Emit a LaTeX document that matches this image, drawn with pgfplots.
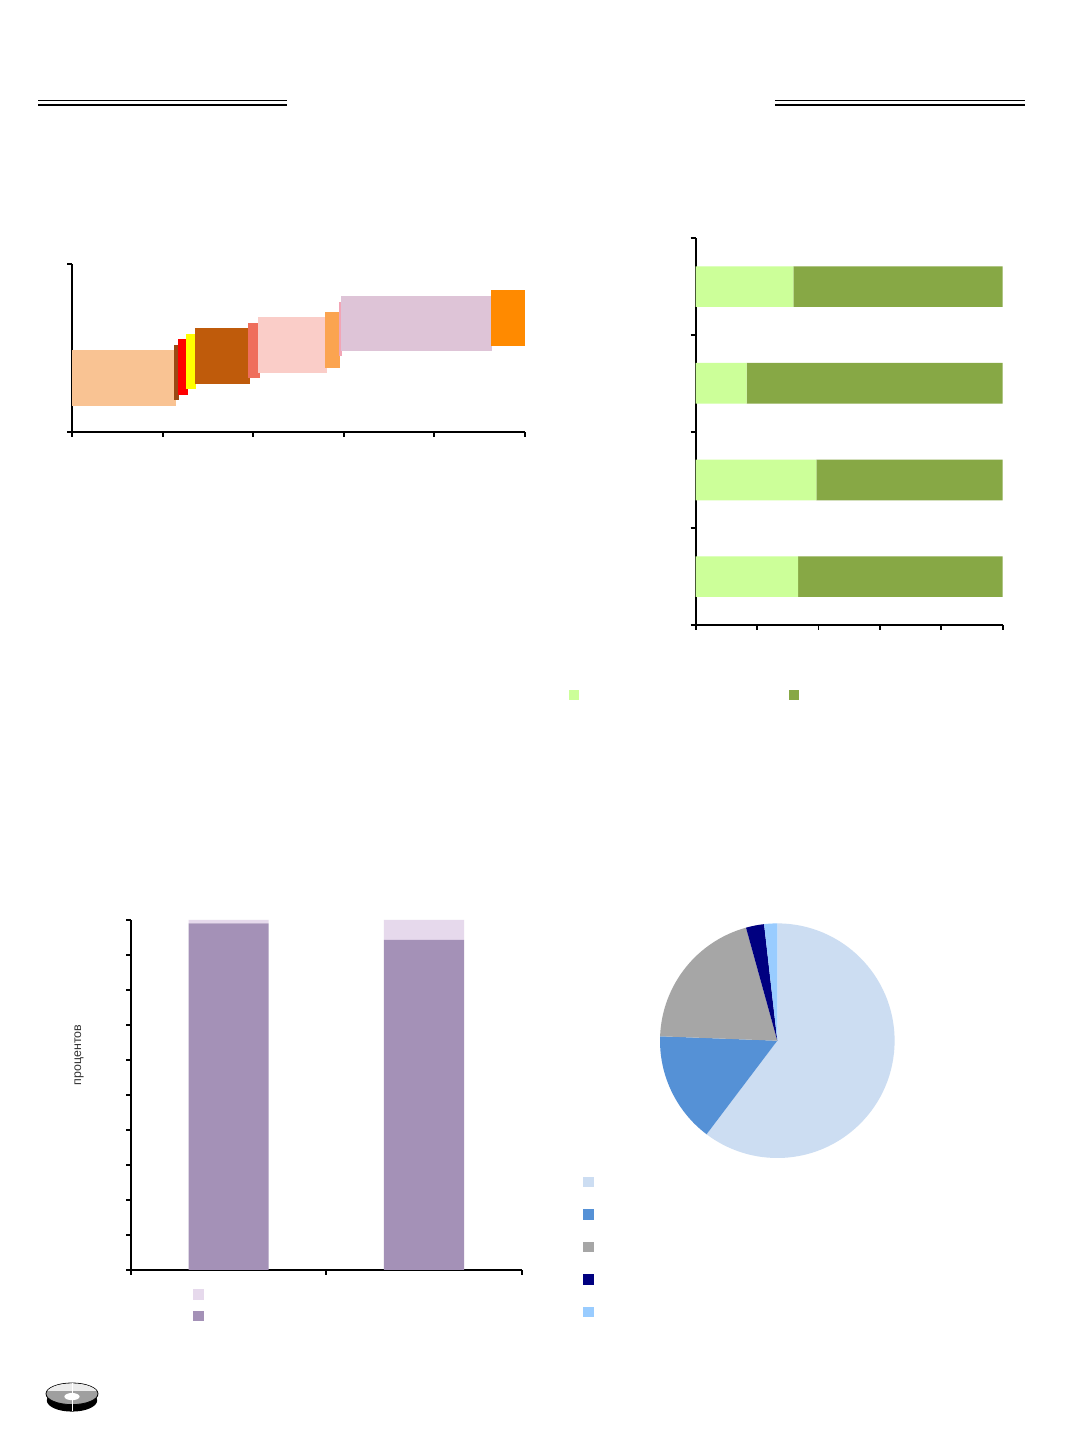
\documentclass[border=0pt]{standalone}
\usepackage{fontspec}
\setmainfont{Liberation Sans}
\usepackage{pgfplots}
\pgfplotsset{compat=1.18}
\definecolor{cPeach}{HTML}{F9C393}
\definecolor{cBrown}{HTML}{9A4A14}
\definecolor{cRed}{HTML}{FF0000}
\definecolor{cYellow}{HTML}{FFFF00}
\definecolor{cDkOr}{HTML}{BF5B0B}
\definecolor{cSalmon}{HTML}{EF6E5C}
\definecolor{cLtPink}{HTML}{FACDC8}
\definecolor{cLtOr}{HTML}{FBA450}
\definecolor{cPink}{HTML}{F2A5B6}
\definecolor{cMauve}{HTML}{DEC4D7}
\definecolor{cOrange}{HTML}{FF8A00}
\definecolor{gLight}{HTML}{CCFF99}
\definecolor{gDark}{HTML}{87A845}
\definecolor{vDark}{HTML}{A491B7}
\definecolor{vLight}{HTML}{E6D9EC}
\definecolor{pie1}{HTML}{CCDDF2}
\definecolor{pie2}{HTML}{5591D6}
\definecolor{pie3}{HTML}{A6A6A6}
\definecolor{pie4}{HTML}{000080}
\definecolor{pie5}{HTML}{99CCFF}
\pgfplotsset{
  myax/.style={scale only axis, axis lines*=left,
    axis line style={line width=0.9pt, black, -},
    tick style={line width=0.9pt, black}, tick align=outside,
    major tick length=2.5pt, xticklabels={}, yticklabels={}},
  sqleg/.style={legend image code/.code={\fill[##1,draw=none] (0pt,-2.6pt) rectangle (5.2pt,2.6pt);},
    every axis plot post/.append style={legend image code/.code={\fill[####1,draw=none] (0pt,-2.6pt) rectangle (5.2pt,2.6pt);}},
    legend style={draw=none, fill=none, inner sep=0pt, outer sep=0pt, column sep=0pt,
      nodes={inner sep=0pt, outer sep=0pt}}}
}
\newcommand{\rect}[5]{\addplot[fill=#1, draw=none, mark=none] coordinates {(#2,#4) (#3,#4) (#3,#5) (#2,#5)};}
\begin{document}
\begin{tikzpicture}
\fill[white] (0,0) rectangle (536pt,716.5pt);
\useasboundingbox (0,0) rectangle (536pt,716.5pt);
% double rules
\draw[line width=0.5pt] (19.15pt,666.15pt) -- (143.35pt,666.15pt);
\draw[line width=1.2pt] (19.15pt,664.05pt) -- (143.35pt,664.05pt);
\draw[line width=0.5pt] (387.5pt,666.15pt) -- (512.5pt,666.15pt);
\draw[line width=1.2pt] (387.5pt,664.05pt) -- (512.5pt,664.05pt);
% chart 1
\begin{axis}[myax, at={(36pt,500.5pt)}, anchor=south west, width=226.5pt, height=84pt,
  xmin=0, xmax=5, ymin=0, ymax=30, xtick={0,1,2,3,4,5}, ytick={0,30}]
\rect{cPeach}{0.00}{1.148}{4.70}{14.64}
\rect{cBrown}{1.129}{1.181}{5.71}{15.54}
\rect{cRed}{1.167}{1.280}{6.61}{16.61}
\rect{cYellow}{1.258}{1.369}{7.63}{17.50}
\rect{cDkOr}{1.358}{1.961}{8.57}{18.52}
\rect{cSalmon}{1.943}{2.072}{9.59}{19.52}
\rect{cLtPink}{2.053}{2.811}{10.54}{20.48}
\rect{cLtOr}{2.792}{2.958}{11.48}{21.48}
\rect{cPink}{2.947}{2.980}{13.57}{23.27}
\rect{cMauve}{2.966}{4.639}{14.41}{24.34}
\rect{cOrange}{4.621}{5.000}{15.36}{25.30}
\end{axis}
% chart 2
\begin{axis}[myax, sqleg, at={(347.85pt,404pt)}, anchor=south west, width=153.5pt, height=193.35pt,
  xmin=0, xmax=100, ymin=0, ymax=4, xtick={0,20,40,60,80,100}, ytick={0,1,2,3,4},
  xbar stacked, bar width=0.42,
  legend columns=2,
  legend style={at={(axis description cs:-0.413,-0.181)}, anchor=west}]
\addplot[fill=gLight, draw=none] coordinates {(33.4,0.5) (39.3,1.5) (16.6,2.5) (31.8,3.5)};
\addlegendentry{\hspace*{104.6pt}}
\addplot[fill=gDark, draw=none] coordinates {(66.6,0.5) (60.7,1.5) (83.4,2.5) (68.2,3.5)};
\addlegendentry{\mbox{}}
\end{axis}
% chart 3
\begin{axis}[myax, sqleg, at={(65.5pt,81.5pt)}, anchor=south west, width=195.35pt, height=175pt,
  xmin=0, xmax=2, ymin=0, ymax=100, xtick={0,1,2}, ytick={0,10,...,100},
  ybar stacked, bar width=0.41,
  ylabel={процентов},
  ylabel style={at={(axis description cs:-0.133,0.614)}, anchor=center,
    font=\fontsize{6.2}{7}\selectfont, text=black!80},
  reverse legend,
  legend style={at={(axis description cs:0.1595,-0.055)}, anchor=north west, row sep=5.45pt}]
\addplot[fill=vDark, draw=none] coordinates {(0.5,99.0) (1.5,94.3)};
\addlegendentry{\mbox{}}
\addplot[fill=vLight, draw=none] coordinates {(0.5,1.0) (1.5,5.7)};
\addlegendentry{\mbox{}}
\end{axis}
% chart 4 pie
\pgfmathsetmacro{\aA}{90}
\pgfmathsetmacro{\aB}{\aA-3.6*60.3}
\pgfmathsetmacro{\aC}{\aB-3.6*15.3}
\pgfmathsetmacro{\aD}{\aC-3.6*20.1}
\pgfmathsetmacro{\aE}{\aD-3.6*2.5}
\pgfmathsetmacro{\aF}{\aE-3.6*1.8}
\begin{axis}[sqleg, at={(388.65pt,196.15pt)}, anchor=center, scale only axis,
  width=117.3pt, height=117.3pt, xmin=-1, xmax=1, ymin=-1, ymax=1, hide axis,
  legend style={at={(axis description cs:-0.327,-0.0797)}, anchor=north west, row sep=11.05pt}]
\addlegendimage{fill=pie1}\addlegendentry{\mbox{}}
\addlegendimage{fill=pie2}\addlegendentry{\mbox{}}
\addlegendimage{fill=pie3}\addlegendentry{\mbox{}}
\addlegendimage{fill=pie4}\addlegendentry{\mbox{}}
\addlegendimage{fill=pie5}\addlegendentry{\mbox{}}
\fill[pie1] (axis cs:0,0) -- ++(\aA:58.65pt) arc[start angle=\aA, end angle=\aB, radius=58.65pt] -- cycle;
\fill[pie2] (axis cs:0,0) -- ++(\aB:58.65pt) arc[start angle=\aB, end angle=\aC, radius=58.65pt] -- cycle;
\fill[pie3] (axis cs:0,0) -- ++(\aC:58.65pt) arc[start angle=\aC, end angle=\aD, radius=58.65pt] -- cycle;
\fill[pie4] (axis cs:0,0) -- ++(\aD:58.65pt) arc[start angle=\aD, end angle=\aE, radius=58.65pt] -- cycle;
\fill[pie5] (axis cs:0,0) -- ++(\aE:58.65pt) arc[start angle=\aE, end angle=\aF, radius=58.65pt] -- cycle;
\end{axis}
% logo
\fill[black] (36pt,16.3pt) ellipse [x radius=12.6pt, y radius=5.6pt];
\fill[gray!75] (36pt,19.6pt) ellipse [x radius=13pt, y radius=5.4pt];
\draw[line width=0.4pt] (36pt,19.6pt) ellipse [x radius=13pt, y radius=5.4pt];
\begin{scope}
\clip (23pt,21.2pt) rectangle (49pt,26pt);
\fill[gray!15] (36pt,19.6pt) ellipse [x radius=12.8pt, y radius=5.2pt];
\end{scope}
\fill[white] (36pt,18.2pt) ellipse [x radius=3.8pt, y radius=1.8pt];
\draw[white, line width=0.5pt] (36pt,25pt) -- (36pt,10.8pt);
\end{tikzpicture}
\end{document}
